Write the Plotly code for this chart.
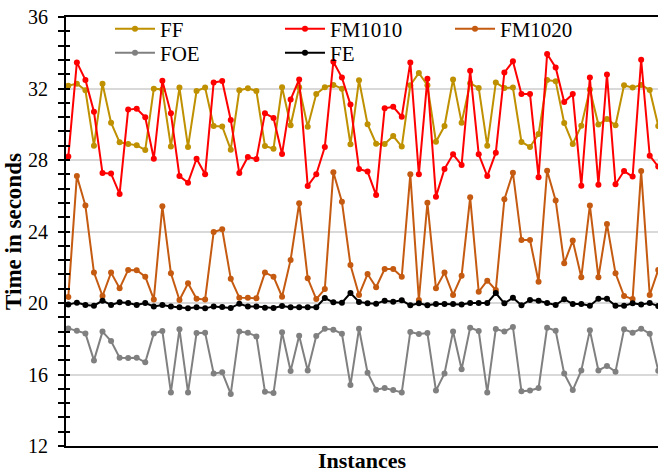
import plotly.graph_objects as go

instances = list(range(1, 71))

ff = [32.16, 32.27, 31.90, 28.80, 32.27, 30.09, 28.99, 28.90, 28.82, 28.56,
      31.99, 31.95, 28.75, 32.05, 28.73, 31.86, 32.05, 29.90, 29.88, 28.58,
      31.90, 32.01, 31.86, 28.78, 28.63, 32.07, 29.94, 32.07, 29.86, 31.69,
      32.07, 32.20, 31.99, 28.88, 32.46, 30.00, 28.91, 28.90, 29.34, 28.75,
      32.18, 32.87, 32.18, 29.02, 29.90, 32.51, 30.09, 32.29, 32.03, 28.80,
      32.33, 32.03, 32.05, 29.01, 28.73, 29.45, 32.48, 32.40, 30.07, 28.90,
      29.92, 31.95, 29.98, 30.29, 29.94, 32.18, 32.05, 32.20, 31.92, 29.90]

fm1010 = [28.19, 33.46, 32.48, 30.70, 27.27, 27.24, 26.10, 30.82, 30.87, 30.39,
          28.07, 32.44, 30.61, 27.10, 26.73, 28.07, 27.20, 32.33, 32.42, 30.24,
          27.27, 28.17, 28.05, 30.61, 30.35, 28.34, 31.38, 32.51, 26.55, 27.20,
          28.73, 33.50, 32.61, 31.10, 27.50, 27.35, 26.04, 30.89, 30.98, 30.42,
          33.46, 27.20, 32.55, 25.95, 27.50, 28.32, 27.72, 33.00, 28.32, 27.10,
          28.41, 32.89, 33.52, 31.69, 31.69, 27.03, 33.93, 33.18, 31.24, 31.69,
          26.56, 32.61, 26.62, 32.79, 26.64, 27.38, 27.07, 33.61, 28.24, 27.63]

fm1020 = [20.34, 27.11, 25.45, 21.70, 20.39, 21.70, 20.82, 21.85, 21.83, 21.47,
          20.20, 25.41, 21.66, 20.17, 21.10, 20.24, 20.20, 23.97, 24.12, 21.36,
          20.30, 20.30, 20.26, 21.70, 21.47, 20.35, 22.41, 25.58, 21.38, 20.22,
          20.78, 27.31, 25.67, 22.13, 20.45, 21.62, 20.88, 21.90, 21.90, 21.47,
          27.20, 20.17, 25.61, 20.82, 21.70, 20.45, 21.53, 25.91, 20.63, 21.25,
          20.73, 25.80, 27.29, 23.52, 23.52, 21.19, 27.40, 25.74, 22.22, 23.49,
          21.44, 25.46, 21.44, 24.42, 21.66, 20.39, 20.22, 27.38, 20.45, 21.85]

foe = [18.58, 18.45, 18.30, 16.79, 18.40, 17.87, 16.94, 16.92, 16.94, 16.68,
       18.30, 18.43, 15.00, 18.53, 15.00, 18.32, 18.34, 16.06, 16.12, 14.91,
       18.40, 18.34, 18.13, 15.04, 14.96, 18.36, 16.20, 18.17, 16.23, 18.15,
       18.56, 18.51, 18.28, 15.41, 18.56, 16.10, 15.15, 15.24, 15.13, 15.00,
       18.38, 18.27, 18.32, 15.10, 16.06, 18.41, 16.29, 18.62, 18.43, 15.00,
       18.55, 18.40, 18.66, 15.06, 15.11, 15.24, 18.62, 18.45, 16.05, 15.13,
       16.23, 18.47, 16.23, 16.48, 16.16, 18.53, 18.34, 18.56, 18.28, 16.21]

fe = [19.91, 20.02, 19.89, 19.85, 20.13, 19.89, 20.04, 20.00, 19.89, 20.00,
      19.81, 19.89, 19.81, 19.76, 19.70, 19.76, 19.70, 19.81, 19.78, 19.72,
      19.96, 19.81, 19.80, 19.74, 19.72, 19.83, 19.76, 19.76, 19.76, 19.76,
      20.28, 20.04, 20.02, 20.56, 20.06, 19.98, 19.96, 20.13, 20.07, 20.15,
      19.87, 19.98, 19.87, 19.94, 19.95, 19.94, 19.92, 20.00, 20.00, 20.00,
      20.56, 19.98, 20.30, 19.87, 20.17, 20.13, 20.00, 19.89, 20.21, 19.94,
      19.94, 19.85, 20.24, 20.24, 19.85, 19.85, 19.98, 19.91, 20.00, 19.83]

y_ticks = [12, 16, 20, 24, 28, 32, 36]

series = [
    ("FF", ff, "#BF9000", "legend"),
    ("FM1010", fm1010, "#FF0000", "legend"),
    ("FM1020", fm1020, "#C55A11", "legend"),
    ("FOE", foe, "#808080", "legend2"),
    ("FE", fe, "#000000", "legend2"),
]

FONT = "Liberation Serif, Times New Roman, serif"

fig = go.Figure()
for name, vals, color, lg in series:
    fig.add_trace(go.Scatter(
        x=instances, y=vals, name=name, mode="lines+markers",
        line=dict(color=color, width=2),
        marker=dict(color=color, size=6),
        legend=lg,
    ))

# overlay axis for the inner half of the crossing ticks
fig.add_trace(go.Scatter(x=[], y=[], yaxis="y2", showlegend=False, hoverinfo="skip"))

legend_common = dict(
    orientation="h", xanchor="left", yanchor="middle",
    entrywidth=115, entrywidthmode="pixels",
    bgcolor="rgba(0,0,0,0)", font=dict(family=FONT, size=21),
    itemwidth=40, traceorder="normal",
)

fig.update_layout(
    width=658, height=473,
    margin=dict(l=66, r=0, t=17, b=27, autoexpand=False),
    plot_bgcolor="white", paper_bgcolor="white",
    font=dict(family=FONT, color="black", size=20),
    showlegend=True,
    legend=dict(x=0.0743, y=0.972, **legend_common),
    legend2=dict(x=0.0743, y=0.916, **legend_common),
    xaxis=dict(
        range=[0.73, 69.97], showgrid=False, zeroline=False,
        showline=True, linecolor="black", linewidth=2, mirror=True,
        ticks="", showticklabels=False, automargin=False,
        title=dict(text="<b>Instances</b>", standoff=8,
                   font=dict(family=FONT, size=22)),
    ),
    yaxis=dict(
        range=[12, 36], tickvals=y_ticks, ticktext=[str(v) for v in y_ticks],
        showgrid=True, gridcolor="#D9D9D9", gridwidth=1.5, zeroline=False,
        showline=True, linecolor="black", linewidth=2, automargin=False,
        ticks="outside", ticklen=6, tickwidth=2, tickcolor="black",
        minor=dict(dtick=0.8, tick0=12, ticks="outside", ticklen=6,
                   tickwidth=2, tickcolor="black", showgrid=False),
        tickfont=dict(family=FONT, size=20),
        ticklabelstandoff=6,
        title=dict(text="<b>Time in seconds</b>", standoff=0,
                   font=dict(family=FONT, size=23)),
    ),
    yaxis2=dict(
        overlaying="y", side="left", anchor="x",
        range=[12, 36], tickvals=y_ticks, showticklabels=False,
        showgrid=False, zeroline=False, showline=False,
        ticks="inside", ticklen=4, tickwidth=2, tickcolor="black",
        minor=dict(dtick=0.8, tick0=12, ticks="inside", ticklen=4,
                   tickwidth=2, tickcolor="black", showgrid=False),
    ),
)

# remove the browser's default page margin so the figure sits at the top-left corner
fig.write_html("out.html", config={"displayModeBar": False},
               post_script="document.body.style.margin='0px';")
